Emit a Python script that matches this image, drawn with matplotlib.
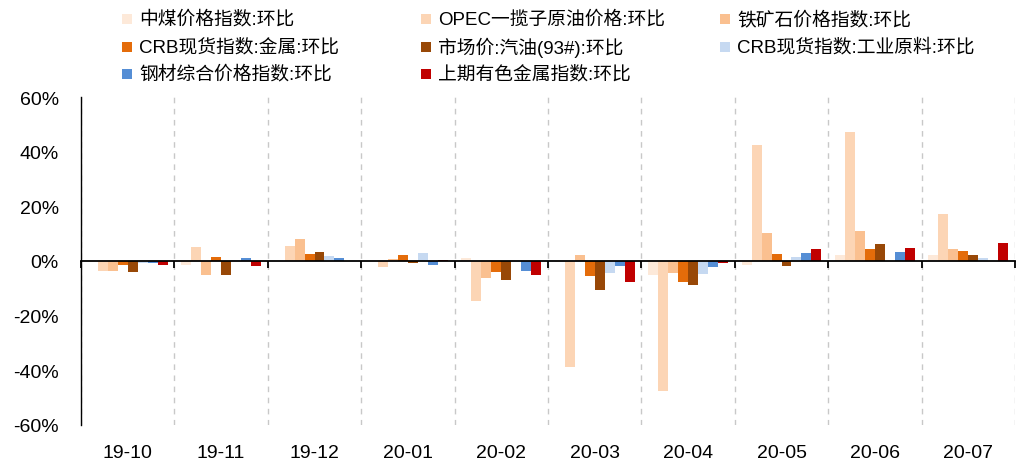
import matplotlib
matplotlib.use("Agg")
import matplotlib.pyplot as plt
import numpy as np
from matplotlib.patches import Rectangle
from matplotlib.ticker import FuncFormatter

plt.rcParams["font.family"] = ["Liberation Sans", "Noto Sans CJK SC"]
plt.rcParams["axes.unicode_minus"] = False

months = ["19-10", "19-11", "19-12", "20-01", "20-02",
          "20-03", "20-04", "20-05", "20-06", "20-07"]

names = ["中煤价格指数:环比", "OPEC一揽子原油价格:环比", "铁矿石价格指数:环比",
         "CRB现货指数:金属:环比", "市场价:汽油(93#):环比", "CRB现货指数:工业原料:环比",
         "钢材综合价格指数:环比", "上期有色金属指数:环比"]

# month-on-month change, %
coal = [-0.2, -1.3, 0.0, 0.0, 1.0, -0.5, -5.0, -1.3, 2.2, 2.1]
opec = [-3.8, 5.1, 5.5, -2.2, -14.5, -38.8, -47.6, 42.5, 47.1, 17.2]
iron_ore = [-3.6, -5.3, 7.9, 0.8, -6.2, 2.1, -4.5, 10.3, 11.0, 4.5]
crb_metal = [-1.5, 1.5, 2.6, 2.1, -4.1, -5.5, -7.6, 2.4, 4.4, 3.7]
gasoline = [-4.0, -5.2, 3.2, -0.8, -6.8, -10.6, -8.7, -1.7, 6.1, 2.3]
crb_ind = [-0.6, 0.2, 1.7, 3.1, -0.3, -4.4, -4.8, 1.5, 0.0, 1.2]
steel = [-0.8, 1.0, 1.0, -1.4, -3.7, -2.0, -2.2, 3.0, 3.3, 0.0]
shfe = [-1.5, -2.0, 0.1, 0.4, -5.0, -7.8, -0.7, 4.4, 4.8, 6.5]

series = [coal, opec, iron_ore, crb_metal, gasoline, crb_ind, steel, shfe]
colors = ["#FDE9D9", "#FCD5B5", "#FAC090", "#E46C0A",
          "#984807", "#C6D9F1", "#558ED5", "#C00000"]

W, H = 1027, 464
fig = plt.figure(figsize=(W / 100, H / 100), dpi=100)
ax = fig.add_axes([81 / W, 1 - 426 / H, (1015 - 81) / W, (426 - 98) / H])

x = np.arange(len(months))
bw = 0.107
for i, (vals, c) in enumerate(zip(series, colors)):
    ax.bar(x + (i - 3.5) * bw, vals, width=bw, color=c, linewidth=0, zorder=3)

ax.set_xlim(-0.5, len(months) - 0.5)
ax.set_ylim(-60, 60)
ax.set_yticks(np.arange(-60, 61, 20))
ax.yaxis.set_major_formatter(FuncFormatter(lambda v, p: f"{v:.0f}%"))
ax.tick_params(axis="y", labelsize=14, length=0, pad=16)

# zero line with group boundary ticks
ax.spines["bottom"].set_position(("data", 0))
ax.spines["bottom"].set_linewidth(1.3)
ax.spines["bottom"].set_zorder(4)
ax.spines["top"].set_visible(False)
ax.spines["right"].set_visible(False)
ax.spines["left"].set_linewidth(1.0)
ax.set_xticks(np.arange(-0.5, len(months), 1.0))
ax.tick_params(axis="x", length=5, width=1.3, labelbottom=False, direction="out")
ax.grid(axis="x", color="#C8C8C8", linestyle=(0, (4, 4)), linewidth=1.0, zorder=0)

sec = ax.secondary_xaxis("bottom")
sec.set_xticks(x, months)
sec.tick_params(length=0, labelsize=14, pad=14)
sec.spines["bottom"].set_visible(False)

# legend, three equal-width columns
for i, (name, c) in enumerate(zip(names, colors)):
    row, col = i // 3, i % 3
    px = 122 + col * 299
    py = 20 + row * 27.5
    fig.patches.append(Rectangle((px / W, 1 - (py + 5) / H), 10 / W, 10 / H,
                                 transform=fig.transFigure, color=c, linewidth=0))
    fig.text((px + 17) / W, 1 - py / H, name, fontsize=13.5, va="center", ha="left")

fig.savefig("out.png", dpi=100)
